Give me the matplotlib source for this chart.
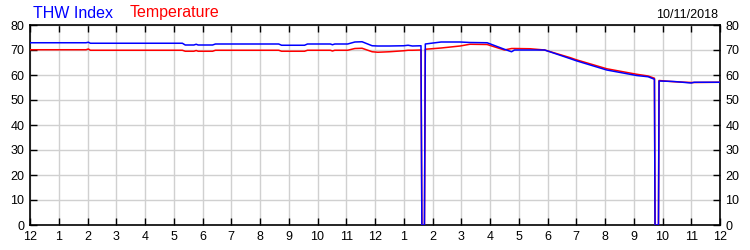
import matplotlib
matplotlib.use("Agg")
import matplotlib.pyplot as plt

plt.rcParams['font.family'] = ['Liberation Sans', 'DejaVu Sans']

hours = [0.0, 1.95, 2.03, 2.1, 5.3, 5.4, 5.7, 5.78, 5.85, 6.35, 6.45, 8.65, 8.75,
         9.55, 9.65, 10.45, 10.52, 10.6, 11.05, 11.3, 11.55, 11.9, 12.1, 12.5, 13.0,
         13.15, 13.3, 13.6, 13.63, 13.72, 13.75, 14.3, 14.96, 15.3, 15.9, 16.5, 16.75,
         16.85, 17.4, 17.9, 18.8, 19.0, 20.06, 21.1, 21.5, 21.72, 21.74, 21.86, 21.88,
         22.4, 22.8, 23.0, 23.1, 24.0]
thw_index = [72.9, 72.9, 73.1, 72.7, 72.7, 72.0, 72.0, 72.3, 72.0, 72.0, 72.4, 72.4, 71.9,
             71.9, 72.4, 72.4, 72.1, 72.4, 72.4, 73.2, 73.3, 71.7, 71.6, 71.6, 71.7,
             71.9, 71.6, 71.7, 0.0, 0.0, 72.4, 73.2, 73.2, 73.0, 72.9, 70.3, 69.3,
             70.0, 70.0, 70.0, 66.5, 65.7, 62.0, 59.8, 59.3, 58.3, 0.0, 0.0, 57.6,
             57.4, 57.0, 56.8, 57.1, 57.1]
temperature = [70.1, 70.1, 70.4, 69.9, 69.9, 69.5, 69.5, 69.8, 69.5, 69.5, 69.9, 69.9, 69.5,
               69.5, 69.9, 69.9, 69.6, 69.9, 69.9, 70.6, 70.7, 69.3, 69.1, 69.3, 69.7,
               69.9, 69.9, 70.0, 0.0, 0.0, 70.3, 70.8, 71.6, 72.3, 72.2, 70.0, 70.6,
               70.6, 70.5, 70.0, 66.9, 66.1, 62.5, 60.3, 59.6, 58.7, 0.0, 0.0, 57.8,
               57.3, 57.1, 57.0, 57.0, 57.1]
x_ticklabels = ['12'] + [str(i) for i in range(1, 12)] + ['12'] + [str(i) for i in range(1, 12)] + ['12']
y_ticks = [0, 10, 20, 30, 40, 50, 60, 70, 80]
date_label = '10/11/2018'

fig = plt.figure(figsize=(7.5, 2.5), dpi=100)
ax = fig.add_axes([0.04, 0.1, 0.92, 0.8])

ax.plot(hours, temperature, color='#ff0000', lw=1.1, zorder=3)
ax.plot(hours, thw_index, color='#0000ff', lw=1.1, zorder=4)

ax.set_xlim(0, 24)
ax.set_ylim(0, 80)
ax.set_xticks(range(25))
ax.set_xticklabels(x_ticklabels)
ax.set_yticks(y_ticks)
ax.grid(True, color='#d0d0d0', lw=1.0, zorder=0)
ax.set_axisbelow(True)
ax.tick_params(axis='x', direction='in', length=5, width=1, top=True, bottom=True,
               labelsize=9, pad=4, colors='black')
ax.tick_params(axis='y', direction='in', length=5, width=1, left=True, right=True,
               labelleft=True, labelright=True, labelsize=9, pad=4)
for s in ax.spines.values():
    s.set_color('black')
    s.set_linewidth(1.2)

fig.text(0.044, 0.93, 'THW Index', color='#0000ff', fontsize=11.5, va='baseline', ha='left')
fig.text(0.173, 0.93, 'Temperature', color='#ff0000', fontsize=11.5, va='baseline', ha='left')
fig.text(0.958, 0.93, date_label, color='black', fontsize=9, va='baseline', ha='right')

fig.savefig('out.png', dpi=100)
